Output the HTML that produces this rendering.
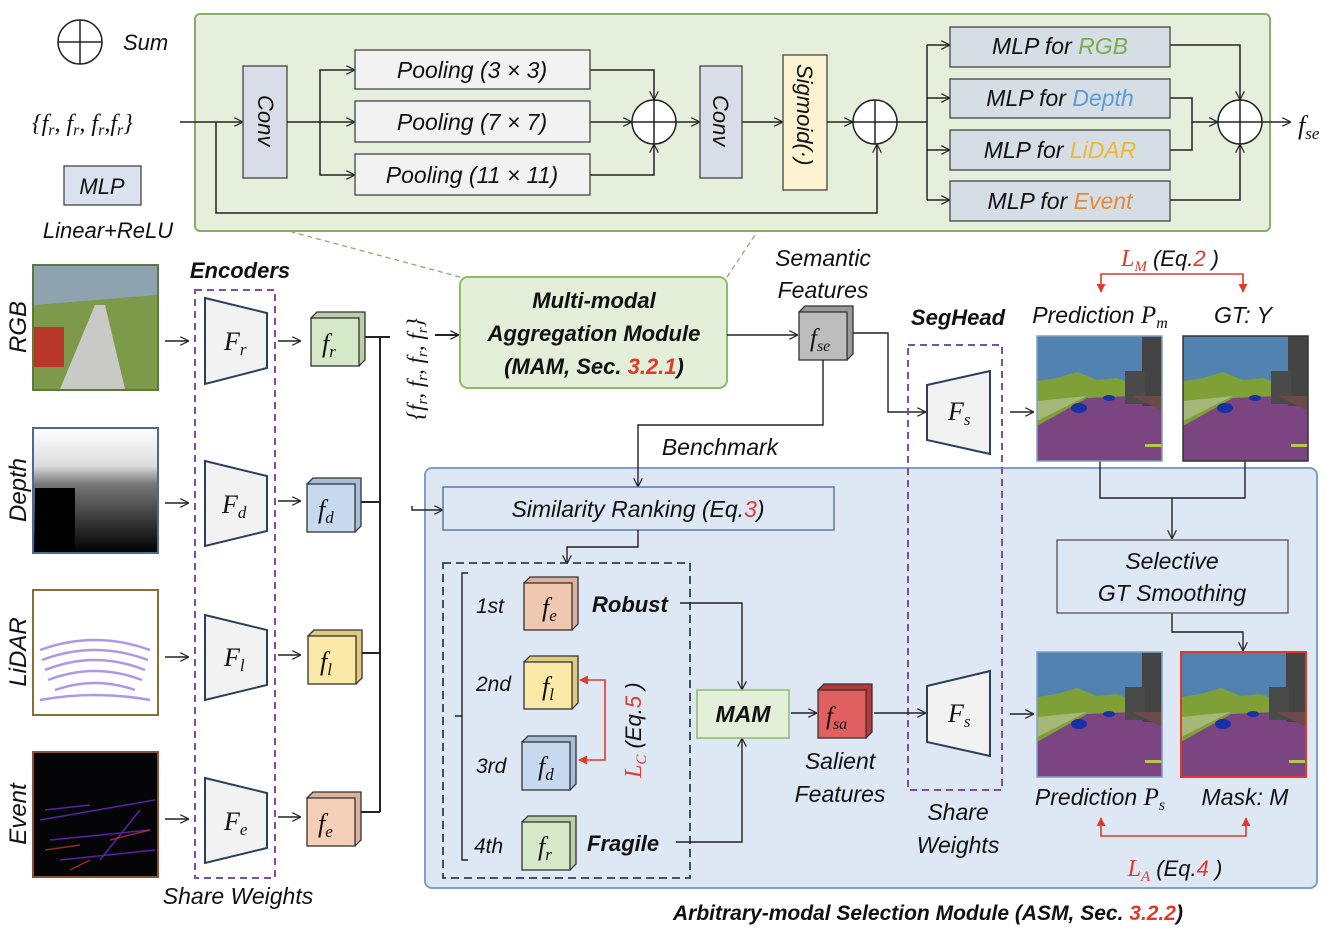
<!DOCTYPE html>
<html><head><meta charset="utf-8"><style>
html,body{margin:0;padding:0;background:#fff}
svg{display:block}
text{font-family:"Liberation Sans",sans-serif;font-style:italic;fill:#111}
.m{font-family:"Liberation Serif",serif;font-style:italic}
.b{font-weight:bold}
.r{fill:#e03a2a}
</style></head><body>
<svg width="1334" height="938" viewBox="0 0 1334 938" xmlns="http://www.w3.org/2000/svg">
<defs>
<marker id="a" viewBox="0 0 10 10" refX="9" refY="5" markerWidth="9" markerHeight="9" orient="auto-start-reverse" markerUnits="userSpaceOnUse"><path d="M0,0 L10,5 L0,10" fill="none" stroke="#222" stroke-width="1.3"/></marker>
<marker id="ar" viewBox="0 0 10 10" refX="9" refY="5" markerWidth="9" markerHeight="9" orient="auto-start-reverse" markerUnits="userSpaceOnUse"><path d="M0,0 L10,5 L0,10 z" fill="#e03a2a"/></marker>
<g id="seg">
<rect x="0" y="0" width="125" height="125" fill="#7a4580"/>
<rect x="0" y="0" width="125" height="50" fill="#5182b0"/>
<path d="M0,45 L20,42 L40,36 L60,44 L80,42 L95,48 L95,60 L50,62 L0,90 z" fill="#7fa037"/>
<path d="M0,65 L50,60 L0,85 z" fill="#a5b878"/>
<rect x="105" y="0" width="20" height="70" fill="#444"/>
<rect x="88" y="35" width="20" height="33" fill="#4a4a4a"/>
<path d="M95,60 L125,60 L125,75 z" fill="#6b4a4a"/>
<ellipse cx="42" cy="72" rx="8" ry="5" fill="#1b2fa5"/>
<ellipse cx="72" cy="62" rx="6" ry="3" fill="#1b2fa5"/>
<rect x="108" y="108" width="17" height="3" fill="#b5c64a"/>
</g>
</defs>

<!-- top green box -->
<rect x="195" y="14" width="1075" height="217" rx="5" fill="#e6efdc" stroke="#8aad6a" stroke-width="2"/>
<line x1="460" y1="277" x2="292" y2="232" stroke="#8aad6a" stroke-width="1.3" stroke-dasharray="5,4"/>
<line x1="727" y1="277" x2="757" y2="232" stroke="#8aad6a" stroke-width="1.3" stroke-dasharray="5,4"/>

<!-- legend -->
<circle cx="80" cy="42" r="22" fill="#fff" stroke="#222" stroke-width="1.5"/>
<path d="M58,42 H102 M80,20 V64" stroke="#222" stroke-width="1.5"/>
<text x="123" y="50" font-size="22">Sum</text>
<rect x="64" y="166" width="77" height="39" fill="#dae2ef" stroke="#444" stroke-width="1.3"/>
<text x="102" y="194" font-size="22" text-anchor="middle">MLP</text>
<text x="108" y="238" font-size="22" text-anchor="middle">Linear+ReLU</text>
<text x="32" y="131" font-size="24" class="m">{f<tspan font-size="16" dy="4">r</tspan><tspan dy="-4">, f</tspan><tspan font-size="16" dy="4">r</tspan><tspan dy="-4">, f</tspan><tspan font-size="16" dy="4">r</tspan><tspan dy="-4">,f</tspan><tspan font-size="16" dy="4">r</tspan><tspan dy="-4">}</tspan></text>

<g fill="none" stroke="#222" stroke-width="1.5">
<line x1="180" y1="122" x2="242" y2="122" marker-end="url(#a)"/>
<path d="M216,122 V213 H877 V145" marker-end="url(#a)"/>
<line x1="287" y1="122" x2="354" y2="122" marker-end="url(#a)"/>
<path d="M320,122 V70 H354" marker-end="url(#a)"/>
<path d="M320,122 V175 H354" marker-end="url(#a)"/>
<path d="M590,70 H654 V99" marker-end="url(#a)"/>
<line x1="590" y1="122" x2="631" y2="122" marker-end="url(#a)"/>
<path d="M590,175 H654 V145" marker-end="url(#a)"/>
<line x1="676" y1="122" x2="699" y2="122" marker-end="url(#a)"/>
<line x1="742" y1="122" x2="782" y2="122" marker-end="url(#a)"/>
<line x1="827" y1="122" x2="852" y2="122" marker-end="url(#a)"/>
<line x1="897" y1="122" x2="927" y2="122"/>
<path d="M927,45 V200" />
<path d="M927,45 H949" marker-end="url(#a)"/>
<path d="M927,98 H949" marker-end="url(#a)"/>
<path d="M927,150 H949" marker-end="url(#a)"/>
<path d="M927,200 H949" marker-end="url(#a)"/>
<path d="M1170,45 H1240 V99" marker-end="url(#a)"/>
<path d="M1170,98 H1192 V122 H1217" marker-end="url(#a)"/>
<path d="M1170,150 H1192 V122"/>
<path d="M1170,200 H1240 V145" marker-end="url(#a)"/>
<line x1="1262" y1="122" x2="1290" y2="122" marker-end="url(#a)"/>
</g>
<rect x="243" y="66" width="44" height="112" fill="#d9dde8" stroke="#444" stroke-width="1.3"/>
<text font-size="22" transform="translate(258,95) rotate(90)">Conv</text>
<rect x="355" y="50" width="235" height="39" fill="#f2f2f2" stroke="#444" stroke-width="1.3"/>
<rect x="355" y="101" width="235" height="41" fill="#f2f2f2" stroke="#444" stroke-width="1.3"/>
<rect x="355" y="154" width="235" height="41" fill="#f2f2f2" stroke="#444" stroke-width="1.3"/>
<text x="472" y="78" font-size="23" text-anchor="middle">Pooling (3 × 3)</text>
<text x="472" y="130" font-size="23" text-anchor="middle">Pooling (7 × 7)</text>
<text x="472" y="183" font-size="23" text-anchor="middle">Pooling (11 × 11)</text>
<circle cx="654" cy="122" r="22" fill="#fff" stroke="#222" stroke-width="1.5"/>
<path d="M632,122 H676 M654,100 V144" stroke="#222" stroke-width="1.5"/>
<rect x="700" y="66" width="42" height="112" fill="#d9dde8" stroke="#444" stroke-width="1.3"/>
<text font-size="22" transform="translate(713,95) rotate(90)">Conv</text>
<rect x="783" y="55" width="44" height="135" fill="#fdf3d0" stroke="#444" stroke-width="1.3"/>
<text font-size="22" transform="translate(797,64) rotate(90)">Sigmoid(·)</text>
<circle cx="875" cy="122" r="22" fill="#fff" stroke="#222" stroke-width="1.5"/>
<path d="M853,122 H897 M875,100 V144" stroke="#222" stroke-width="1.5"/>
<g fill="#d5dde5" stroke="#444" stroke-width="1.3">
<rect x="950" y="27" width="220" height="40"/>
<rect x="950" y="79" width="220" height="39"/>
<rect x="950" y="130" width="220" height="40"/>
<rect x="950" y="181" width="220" height="40"/>
</g>
<text x="1060" y="54" font-size="23" text-anchor="middle">MLP for <tspan fill="#7daa4c">RGB</tspan></text>
<text x="1060" y="106" font-size="23" text-anchor="middle">MLP for <tspan fill="#5b9bd5">Depth</tspan></text>
<text x="1060" y="158" font-size="23" text-anchor="middle">MLP for <tspan fill="#f0b830">LiDAR</tspan></text>
<text x="1060" y="209" font-size="23" text-anchor="middle">MLP for <tspan fill="#e58a3c">Event</tspan></text>
<circle cx="1240" cy="122" r="22" fill="#fff" stroke="#222" stroke-width="1.5"/>
<path d="M1218,122 H1262 M1240,100 V144" stroke="#222" stroke-width="1.5"/>
<text x="1298" y="134" font-size="26" class="m">f<tspan font-size="17" dy="5">se</tspan></text>

<!-- ASM blue box -->
<rect x="425" y="468" width="892" height="420" rx="7" fill="#dde8f4" stroke="#7fa0c8" stroke-width="2"/>

<!-- input images -->
<g>
<rect x="33" y="265" width="125" height="125" fill="#a9b4b8"/>
<rect x="34" y="266" width="123" height="40" fill="#8ea2b0"/>
<path d="M34,305 L157,295 L157,389 L34,389 z" fill="#7c9a4a"/>
<path d="M60,389 L95,305 L105,305 L125,389 z" fill="#c9c9c6"/>
<rect x="34" y="327" width="30" height="40" fill="#b8362a"/>
<rect x="33" y="265" width="125" height="125" fill="none" stroke="#5a7a3a" stroke-width="2"/>
</g>
<defs><linearGradient id="dg" x1="0" y1="0" x2="0" y2="1"><stop offset="0" stop-color="#fff"/><stop offset="0.3" stop-color="#ddd"/><stop offset="0.45" stop-color="#777"/><stop offset="1" stop-color="#000"/></linearGradient></defs>
<rect x="33" y="428" width="125" height="125" fill="url(#dg)" stroke="#4a6a90" stroke-width="2"/>
<rect x="35" y="488" width="40" height="64" fill="#000"/>
<rect x="33" y="590" width="125" height="125" fill="#fff" stroke="#8a7030" stroke-width="2"/>
<g fill="none" stroke="#9a7ee0" stroke-width="2.5" opacity="0.8">
<path d="M40,650 Q95,630 150,650"/><path d="M42,660 Q95,640 148,660"/><path d="M45,670 Q95,650 145,670"/><path d="M48,680 Q95,662 142,680"/><path d="M55,690 Q95,676 135,690"/><path d="M40,700 Q95,690 150,700"/>
</g>
<rect x="33" y="752" width="125" height="125" fill="#050508" stroke="#8a5030" stroke-width="2"/>
<g stroke="#6a2ad0" stroke-width="1.5" opacity="0.8"><path d="M40,820 L155,800 M50,840 L150,830 M60,860 L155,850 M45,810 L90,805 M100,860 L140,810"/></g>
<g stroke="#d03a3a" stroke-width="1.5" opacity="0.7"><path d="M45,850 L80,845 M110,840 L150,830 M70,870 L90,860"/></g>
<text font-size="24" transform="translate(26,327) rotate(-90)" text-anchor="middle">RGB</text>
<text font-size="24" transform="translate(26,490) rotate(-90)" text-anchor="middle">Depth</text>
<text font-size="24" transform="translate(26,652) rotate(-90)" text-anchor="middle">LiDAR</text>
<text font-size="24" transform="translate(26,814) rotate(-90)" text-anchor="middle">Event</text>

<!-- encoders -->
<text x="240" y="278" font-size="22" class="b" text-anchor="middle">Encoders</text>
<rect x="195" y="290" width="80" height="588" fill="none" stroke="#7a4fa8" stroke-width="2" stroke-dasharray="7,5"/>
<text x="238" y="904" font-size="23" text-anchor="middle">Share Weights</text>
<g fill="#f2f2f2" stroke="#2c3e5a" stroke-width="2">
<path d="M205,298 L267,313 L267,368 L205,384 z"/>
<path d="M205,461 L267,476 L267,531 L205,546 z"/>
<path d="M205,615 L267,630 L267,685 L205,700 z"/>
<path d="M205,778 L267,793 L267,848 L205,863 z"/>
</g>
<text x="224" y="350" font-size="26" class="m">F<tspan font-size="17" dy="5">r</tspan></text>
<text x="222" y="513" font-size="26" class="m">F<tspan font-size="17" dy="5">d</tspan></text>
<text x="224" y="666" font-size="26" class="m">F<tspan font-size="17" dy="5">l</tspan></text>
<text x="224" y="830" font-size="26" class="m">F<tspan font-size="17" dy="5">e</tspan></text>
<g fill="none" stroke="#222" stroke-width="1.4">
<line x1="165" y1="341" x2="188" y2="341" marker-end="url(#a)"/>
<line x1="165" y1="503" x2="188" y2="503" marker-end="url(#a)"/>
<line x1="165" y1="657" x2="188" y2="657" marker-end="url(#a)"/>
<line x1="165" y1="819" x2="188" y2="819" marker-end="url(#a)"/>
<line x1="278" y1="341" x2="300" y2="341" marker-end="url(#a)"/>
<line x1="278" y1="501" x2="300" y2="501" marker-end="url(#a)"/>
<line x1="278" y1="655" x2="300" y2="655" marker-end="url(#a)"/>
<line x1="278" y1="817" x2="300" y2="817" marker-end="url(#a)"/>
<path d="M364,337 H390 M380,337 V812 M360,502 H380 M362,653 H380 M360,812 H380" stroke-width="2"/>
<line x1="435" y1="335" x2="458" y2="335" marker-end="url(#a)" stroke-width="2"/>
</g>

<!-- cubes -->
<g stroke="#333" stroke-width="1.3">
<path d="M311,318 L317,312 L365,312 L365,360 L359,366 z" fill="#b8cfa8"/><rect x="311" y="318" width="48" height="48" fill="#d5e8c8"/>
<path d="M307,484 L313,478 L361,478 L361,526 L355,532 z" fill="#a8bdd8"/><rect x="307" y="484" width="48" height="48" fill="#c6d9ef"/>
<path d="M308,636 L314,630 L362,630 L362,678 L356,684 z" fill="#e0ca80"/><rect x="308" y="636" width="48" height="48" fill="#fbe9a8"/>
<path d="M307,798 L313,792 L361,792 L361,840 L355,846 z" fill="#dcb09a"/><rect x="307" y="798" width="48" height="48" fill="#f5cfb8"/>
</g>
<text x="322" y="352" font-size="26" class="m">f<tspan font-size="17" dy="5">r</tspan></text>
<text x="318" y="518" font-size="26" class="m">f<tspan font-size="17" dy="5">d</tspan></text>
<text x="320" y="670" font-size="26" class="m">f<tspan font-size="17" dy="5">l</tspan></text>
<text x="318" y="832" font-size="26" class="m">f<tspan font-size="17" dy="5">e</tspan></text>
<text font-size="23" class="m" transform="translate(423,420) rotate(-90)">{f<tspan font-size="15" dy="4">r</tspan><tspan dy="-4">, f</tspan><tspan font-size="15" dy="4">r</tspan><tspan dy="-4">, f</tspan><tspan font-size="15" dy="4">r</tspan><tspan dy="-4">, f</tspan><tspan font-size="15" dy="4">r</tspan><tspan dy="-4">}</tspan></text>

<!-- MAM -->
<rect x="460" y="277" width="267" height="111" rx="8" fill="#e4efd9" stroke="#8dbb6c" stroke-width="2"/>
<text x="594" y="308" font-size="22" class="b" text-anchor="middle">Multi-modal</text>
<text x="594" y="341" font-size="22" class="b" text-anchor="middle">Aggregation Module</text>
<text x="594" y="374" font-size="22" class="b" text-anchor="middle">(MAM, Sec. <tspan class="r">3.2.1</tspan>)</text>
<text x="823" y="266" font-size="23" text-anchor="middle">Semantic</text>
<text x="823" y="298" font-size="23" text-anchor="middle">Features</text>
<path d="M799,312 L805,306 L853,306 L853,354 L847,360 z" fill="#999" stroke="#333" stroke-width="1.3"/>
<rect x="799" y="312" width="48" height="48" fill="#bdbdbd" stroke="#333" stroke-width="1.3"/>
<text x="810" y="346" font-size="25" class="m">f<tspan font-size="16" dy="5">se</tspan></text>
<g fill="none" stroke="#222" stroke-width="1.4">
<line x1="727" y1="335" x2="797" y2="335" marker-end="url(#a)"/>
<path d="M853,333 H888 V412 H925" marker-end="url(#a)"/>
<path d="M823,360 V425 H638 V486" marker-end="url(#a)"/>
<path d="M412,506 V510 H442" marker-end="url(#a)"/>
<line x1="1010" y1="412" x2="1033" y2="412" marker-end="url(#a)"/>
<path d="M1100,460 V498 H1245 V460 M1172,498 V538" marker-end="url(#a)"/>
<path d="M1172,613 V632 H1243 V650" marker-end="url(#a)"/>
<line x1="1010" y1="714" x2="1033" y2="714" marker-end="url(#a)"/>
</g>
<text x="720" y="455" font-size="23" text-anchor="middle">Benchmark</text>

<!-- SegHead -->
<text x="958" y="325" font-size="22" class="b" text-anchor="middle">SegHead</text>
<rect x="908" y="345" width="94" height="445" fill="none" stroke="#7a4fa8" stroke-width="2" stroke-dasharray="7,5"/>
<g fill="#f2f2f2" stroke="#2c3e5a" stroke-width="2">
<path d="M927,385 L990,371 L990,454 L927,440 z"/>
<path d="M927,686 L990,671 L990,756 L927,742 z"/>
</g>
<text x="948" y="420" font-size="26" class="m">F<tspan font-size="17" dy="5">s</tspan></text>
<text x="948" y="722" font-size="26" class="m">F<tspan font-size="17" dy="5">s</tspan></text>
<text x="958" y="820" font-size="23" text-anchor="middle">Share</text>
<text x="958" y="853" font-size="23" text-anchor="middle">Weights</text>

<!-- predictions -->
<text x="1170" y="266" font-size="22" text-anchor="middle"><tspan class="r m" font-size="24">L</tspan><tspan class="r m" font-size="15" dy="5">M</tspan><tspan dy="-5"> (Eq.</tspan><tspan class="r">2</tspan> )</text>
<path d="M1101,292 V274 H1243 V292" fill="none" stroke="#e03a2a" stroke-width="1.6" marker-start="url(#ar)" marker-end="url(#ar)"/>
<text x="1100" y="323" font-size="23" text-anchor="middle">Prediction <tspan class="m" font-size="25">P</tspan><tspan class="m" font-size="16" dy="5">m</tspan></text>
<text x="1243" y="323" font-size="23" text-anchor="middle">GT: Y</text>
<use href="#seg" x="1037" y="336"/>
<rect x="1037" y="336" width="125" height="125" fill="none" stroke="#7fa0c8" stroke-width="1.5"/>
<use href="#seg" x="1183" y="336"/>
<rect x="1183" y="336" width="125" height="125" fill="none" stroke="#333" stroke-width="1.5"/>
<rect x="1057" y="540" width="231" height="73" fill="#dde8f4" stroke="#555" stroke-width="1.3"/>
<text x="1172" y="569" font-size="23" text-anchor="middle">Selective</text>
<text x="1172" y="601" font-size="23" text-anchor="middle">GT Smoothing</text>
<use href="#seg" x="1037" y="652"/>
<rect x="1037" y="652" width="125" height="125" fill="none" stroke="#7fa0c8" stroke-width="1.5"/>
<use href="#seg" x="1181" y="652"/>
<rect x="1181" y="652" width="125" height="125" fill="none" stroke="#e03a2a" stroke-width="2"/>
<text x="1100" y="805" font-size="23" text-anchor="middle">Prediction <tspan class="m" font-size="25">P</tspan><tspan class="m" font-size="16" dy="5">s</tspan></text>
<text x="1245" y="805" font-size="23" text-anchor="middle">Mask: M</text>
<path d="M1101,818 V836 H1246 V818" fill="none" stroke="#e03a2a" stroke-width="1.6" marker-start="url(#ar)" marker-end="url(#ar)"/>
<text x="1175" y="876" font-size="22" text-anchor="middle"><tspan class="r m" font-size="24">L</tspan><tspan class="r m" font-size="15" dy="5">A</tspan><tspan dy="-5"> (Eq.</tspan><tspan class="r">4</tspan> )</text>

<!-- ASM inner -->
<rect x="443" y="487" width="391" height="43" fill="#dde8f4" stroke="#4a6a90" stroke-width="1.3"/>
<text x="638" y="517" font-size="23" text-anchor="middle">Similarity Ranking (Eq.<tspan class="r">3</tspan>)</text>
<path d="M638,530 V547 H567 V563" fill="none" stroke="#222" stroke-width="1.4" marker-end="url(#a)"/>
<rect x="443" y="563" width="247" height="315" fill="none" stroke="#2c3e5a" stroke-width="1.8" stroke-dasharray="8,5"/>
<path d="M468,573 H462 V860 H468 M462,716 H455" fill="none" stroke="#222" stroke-width="1.4"/>
<text x="476" y="613" font-size="21">1st</text>
<text x="476" y="691" font-size="21">2nd</text>
<text x="476" y="773" font-size="21">3rd</text>
<text x="474" y="853" font-size="21">4th</text>
<g stroke="#333" stroke-width="1.3">
<path d="M524,583 L530,577 L578,577 L578,624 L572,630 z" fill="#dcb09a"/><rect x="524" y="583" width="48" height="47" fill="#f0c8b0"/>
<path d="M524,662 L530,656 L578,656 L578,703 L572,709 z" fill="#e0ca80"/><rect x="524" y="662" width="48" height="47" fill="#fbe9a8"/>
<path d="M522,742 L528,736 L576,736 L576,784 L570,790 z" fill="#a8bdd8"/><rect x="522" y="742" width="48" height="48" fill="#c6d9ef"/>
<path d="M522,822 L528,816 L576,816 L576,864 L570,870 z" fill="#b8cfa8"/><rect x="522" y="822" width="48" height="48" fill="#d5e8c8"/>
</g>
<text x="542" y="616" font-size="26" class="m">f<tspan font-size="17" dy="5">e</tspan></text>
<text x="542" y="695" font-size="26" class="m">f<tspan font-size="17" dy="5">l</tspan></text>
<text x="538" y="775" font-size="26" class="m">f<tspan font-size="17" dy="5">d</tspan></text>
<text x="538" y="855" font-size="26" class="m">f<tspan font-size="17" dy="5">r</tspan></text>
<text x="592" y="612" font-size="22" class="b">Robust</text>
<text x="587" y="851" font-size="22" class="b">Fragile</text>
<path d="M580,680 H605 V760 H579" fill="none" stroke="#e03a2a" stroke-width="1.6" marker-start="url(#ar)" marker-end="url(#ar)"/>
<text font-size="22" transform="translate(641,778) rotate(-90)"><tspan class="r m" font-size="24">L</tspan><tspan class="r m" font-size="15" dy="5">C</tspan><tspan dy="-5"> (Eq.</tspan><tspan class="r">5</tspan> )</text>
<g fill="none" stroke="#222" stroke-width="1.4">
<path d="M680,603 H742 V689" marker-end="url(#a)"/>
<path d="M676,842 H742 V739" marker-end="url(#a)"/>
<line x1="791" y1="713" x2="816" y2="713" marker-end="url(#a)"/>
<line x1="874" y1="713" x2="925" y2="713" marker-end="url(#a)"/>
</g>
<rect x="697" y="690" width="92" height="48" fill="#e4efd9" stroke="#8dbb6c" stroke-width="1.5"/>
<text x="743" y="722" font-size="23" class="b" text-anchor="middle">MAM</text>
<path d="M818,690 L824,684 L872,684 L872,732 L866,738 z" fill="#b83838" stroke="#333" stroke-width="1.3"/>
<rect x="818" y="690" width="48" height="48" fill="#e06060" stroke="#333" stroke-width="1.3"/>
<text x="826" y="724" font-size="25" class="m">f<tspan font-size="16" dy="5">sa</tspan></text>
<text x="840" y="769" font-size="23" text-anchor="middle">Salient</text>
<text x="840" y="802" font-size="23" text-anchor="middle">Features</text>
<text x="928" y="920" font-size="21" class="b" text-anchor="middle">Arbitrary-modal Selection Module (ASM, Sec. <tspan class="r">3.2.2</tspan>)</text>
</svg>
</body></html>
